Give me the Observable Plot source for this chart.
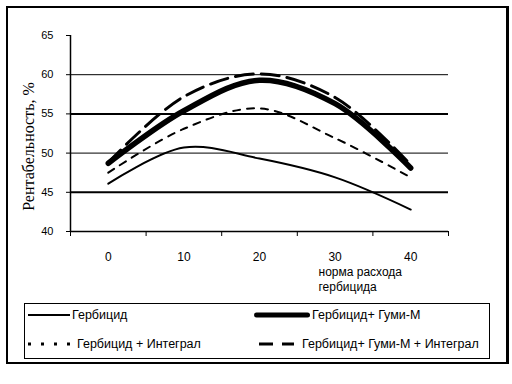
<!DOCTYPE html>
<html><head><meta charset="utf-8">
<script src="https://cdn.jsdelivr.net/npm/d3@7"></script>
<script src="https://cdn.jsdelivr.net/npm/@observablehq/plot@0.6"></script>
<style>
html,body{margin:0;padding:0;background:#fff;}
#wrap{position:relative;width:512px;height:384px;overflow:hidden;background:#fff;font-family:"Liberation Sans",Arial,sans-serif;}
#frame{position:absolute;left:6px;top:6px;width:498px;height:354px;border:2px solid #000;border-right-width:3px;}
#chart{position:absolute;left:0;top:0;}
#legend{position:absolute;left:24px;top:303px;width:466px;height:56px;border:1px solid #000;box-sizing:border-box;}
.item{position:absolute;display:flex;align-items:center;font-size:12.5px;color:#000;white-space:nowrap;}
.item svg{display:block;}
</style>
</head><body>
<div id="wrap"><div id="frame"></div><div id="chart"></div><div id="legend"></div></div>
<script>
// data
const doses = [0, 10, 20, 30, 40];
const herbicide = [46.1, 50.7, 49.3, 46.9, 42.8];
const herbGumi = [48.7, 55.4, 59.3, 56.3, 48.1];
const herbIntegral = [47.5, 53.1, 55.7, 51.9, 46.9];
const herbGumiIntegral = [48.8, 57.2, 60.1, 57.1, 48.5];
const seriesNames = ["Гербицид", "Гербицид+ Гуми-М", "Гербицид + Интеграл", "Гербицид+ Гуми-М + Интеграл"];
const yTicks = [40, 45, 50, 55, 60, 65];
const gridValues = [45, 50, 55, 60];
const xBoundaries = [-5, 5, 15, 25, 35, 45];
const yLabel = "Рентабельность, %";
const xLabel = "норма расхода\nгербицида";

const series = [herbicide, herbGumi, herbIntegral, herbGumiIntegral];
const styles = [
  {strokeWidth: 2},
  {strokeWidth: 5.5},
  {strokeWidth: 2, strokeDasharray: "7,7"},
  {strokeWidth: 3, strokeDasharray: "18,8"}
];
const rows = [];
series.forEach((vals, i) => vals.forEach((v, j) => rows.push({s: seriesNames[i], x: doses[j], y: v})));

const lineMarks = seriesNames.map((name, i) =>
  Plot.line(rows.filter(d => d.s === name), {x: "x", y: "y", stroke: "black", curve: "catmull-rom", ...styles[i]})
);

const chart = Plot.plot({
  width: 512, height: 300,
  marginLeft: 70, marginRight: 64, marginTop: 35, marginBottom: 69,
  style: {fontFamily: "Liberation Sans, Arial, sans-serif", fontSize: "11px", color: "black", background: "transparent", overflow: "visible"},
  x: {domain: [-5, 45]},
  y: {domain: [40, 65]},
  marks: [
    Plot.ruleY(gridValues, {y: d => d, stroke: "black", strokeWidth: d => (d % 10 === 5 ? 2 : 1), strokeOpacity: 1}),
    Plot.ruleY([40], {stroke: "black", strokeWidth: 1.5}),
    Plot.ruleX([-5], {stroke: "black", strokeWidth: 1.5}),
    Plot.axisY({ticks: yTicks, tickSize: 4, tickPadding: 13, label: null, fontSize: 11}),
    Plot.axisX({ticks: xBoundaries, tickSize: 5, tickFormat: () => "", label: null}),
    Plot.axisX({ticks: doses, tickSize: 0, tickPadding: 21, label: null, fontSize: 12}),
    ...lineMarks,
    Plot.text([yLabel], {frameAnchor: "left", text: d => d, rotate: -90, dx: -42, dy: 13,
      textAnchor: "middle", lineAnchor: "middle",
      fontFamily: "Liberation Serif, Times New Roman, serif", fontSize: 16, fill: "black", letterSpacing: "0.8px"}),
    Plot.text([xLabel], {frameAnchor: "bottom-left", text: d => d, dx: 248, dy: 34, textAnchor: "start",
      lineAnchor: "top", fontSize: 12, lineHeight: 1.25, fill: "black"})
  ]
});
document.getElementById("chart").appendChild(chart);

// legend
const legend = document.getElementById("legend");
const legendItems = [
  {i: 0, left: 3, top: 11, w: 42, stroke: 2, dash: null, cap: "butt", gap: 2},
  {i: 1, left: 229, top: 11, w: 56, stroke: 5, dash: null, cap: "round", gap: 2},
  {i: 2, left: 3, top: 40, w: 46, stroke: 3, dash: "3,10", cap: "butt", gap: 3},
  {i: 3, left: 234, top: 40, w: 35, stroke: 3, dash: "14,9", cap: "butt", gap: 8}
];
legendItems.forEach(it => {
  const div = document.createElement("div");
  div.className = "item";
  div.style.left = it.left + "px";
  div.style.top = (it.top - 9) + "px";
  div.style.height = "18px";
  const ns = "http://www.w3.org/2000/svg";
  const svg = document.createElementNS(ns, "svg");
  svg.setAttribute("width", it.w);
  svg.setAttribute("height", 18);
  const ln = document.createElementNS(ns, "line");
  const pad = it.cap === "round" ? 2.5 : 0;
  ln.setAttribute("x1", pad); ln.setAttribute("x2", it.w - pad);
  ln.setAttribute("y1", 9); ln.setAttribute("y2", 9);
  ln.setAttribute("stroke", "black");
  ln.setAttribute("stroke-width", it.stroke);
  ln.setAttribute("stroke-linecap", it.cap);
  if (it.dash) ln.setAttribute("stroke-dasharray", it.dash);
  svg.appendChild(ln);
  const span = document.createElement("span");
  span.textContent = seriesNames[it.i];
  span.style.marginLeft = it.gap + "px";
  div.appendChild(svg);
  div.appendChild(span);
  legend.appendChild(div);
});
</script>
</body></html>
